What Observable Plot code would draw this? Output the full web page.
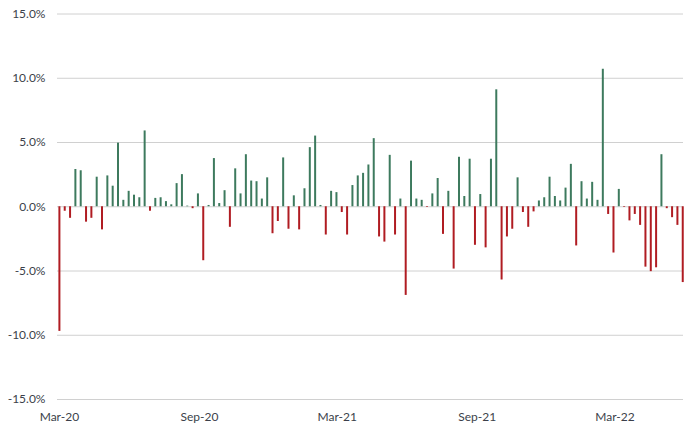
<!DOCTYPE html>
<html><head><meta charset="utf-8">
<script src="https://cdn.jsdelivr.net/npm/d3@7"></script>
<script src="https://cdn.jsdelivr.net/npm/@observablehq/plot@0.6"></script>
<style>html,body{margin:0;padding:0;background:#fff} svg{display:block}</style>
</head><body><div id="chart"></div>
<script>
// Weekly returns (%) starting the week of 6 Mar 2020
const startDate = "2020-03-06";
const weeklyReturns = [
  -9.7, -0.35, -0.9, 2.9, 2.8, -1.2, -0.9, 2.3, -1.8, 2.4,
  1.6, 4.95, 0.5, 1.2, 0.9, 0.7, 5.9, -0.35, 0.65, 0.7,
  0.4, 0.15, 1.8, 2.5, 0.05, -0.15, 1.0, -4.2, 0.1, 3.75,
  0.25, 1.25, -1.6, 2.95, 1.0, 4.05, 2.0, 1.95, 0.6, 2.25,
  -2.1, -1.15, 3.8, -1.75, 0.85, -1.8, 1.4, 4.6, 5.5, 0.1,
  -2.2, 1.2, 1.1, -0.45, -2.2, 1.65, 2.4, 2.6, 3.25, 5.3,
  -2.35, -2.75, 4.0, -2.2, 0.6, -6.9, 3.55, 0.6, 0.5, -0.05,
  1.0, 2.2, -2.15, 1.2, -4.85, 3.85, 0.8, 3.7, -3.0, 0.95,
  -3.2, 3.7, 9.1, -5.7, -2.35, -1.75, 2.25, -0.45, -1.6, -0.4,
  0.45, 0.7, 2.3, 0.8, 0.45, 1.45, 3.3, -3.05, 1.95, 0.6,
  1.9, 0.5, 10.7, -0.6, -3.6, 1.35, -0.05, -1.1, -0.6, -1.45,
  -4.7, -5.05, -4.75, 4.05, -0.15, -0.85, -1.45, -5.9
];
const tickDates = ["2020-03-06", "2020-09-06", "2021-03-06", "2021-09-06", "2022-03-06"];
const yTicks = [-15, -10, -5, 0, 5, 10, 15];
const domainStart = "2020-03-03T12:00";
const domainEnd = "2022-06-04T00:00";

const parse = d3.utcParse("%Y-%m-%d");
const parseT = d3.utcParse("%Y-%m-%dT%H:%M");
const t0 = parse(startDate);
const data = weeklyReturns.map((v, i) => ({date: d3.utcDay.offset(t0, 7 * i), value: v}));

const chart = Plot.plot({
  width: 700,
  height: 436,
  marginLeft: 57,
  marginRight: 17,
  marginTop: 13.5,
  marginBottom: 37,
  style: {fontFamily: "Lato, 'Open Sans', sans-serif", fontSize: "12px", color: "#3b3f4a", background: "#fff"},
  x: {
    type: "utc",
    domain: [parseT(domainStart), parseT(domainEnd)],
    ticks: tickDates.map(parse),
    tickFormat: d3.utcFormat("%b-%y"),
    tickSize: 0,
    tickPadding: 13,
    label: null
  },
  y: {
    domain: [-15, 15],
    ticks: yTicks,
    tickFormat: d => d.toFixed(1) + "%",
    tickSize: 0,
    tickPadding: 12,
    label: null
  },
  marks: [
    Plot.ruleY(yTicks, {stroke: "#d0d0d0", strokeWidth: 1}),
    Plot.ruleX(data, {filter: d => d.value >= 0, x: "date", y1: 0, y2: "value", stroke: "#3d7a5e", strokeWidth: 2}),
    Plot.ruleX(data, {filter: d => d.value < 0, x: "date", y1: 0, y2: "value", stroke: "#b01c22", strokeWidth: 2})
  ]
});
document.getElementById("chart").appendChild(chart);
</script>
</body></html>
